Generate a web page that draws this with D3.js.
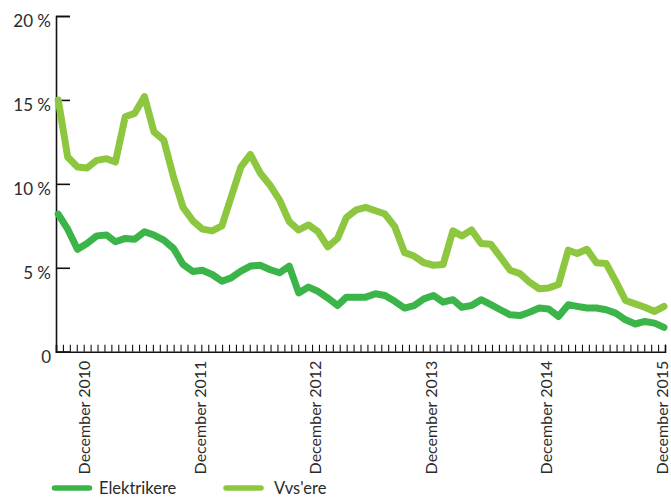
<!DOCTYPE html>
<html>
<head>
<meta charset="utf-8">
<script src="https://cdn.jsdelivr.net/npm/d3@7"></script>
<style>
    body { margin: 0; background: #fff; }
    svg { display: block; font-family: Lato, "Liberation Sans", sans-serif; }
    .lbl { fill: #2b2b2b; }
</style>
</head>
<body>
<svg id="chart" width="671" height="497"></svg>
<script>
// months Sep 2010 .. Dec 2015
const months = d3.timeMonth.range(new Date(2010, 8, 1), new Date(2016, 0, 1));

const elektrikere = [
    8.2, 7.3, 6.1, 6.45, 6.9, 6.95, 6.55, 6.75, 6.7, 7.15, 6.95, 6.65,
    6.15, 5.2, 4.78, 4.85, 4.6, 4.2, 4.4, 4.8, 5.1, 5.15, 4.9, 4.7,
    5.1, 3.5, 3.85, 3.6, 3.2, 2.75, 3.25, 3.25, 3.25, 3.45, 3.35, 3.0,
    2.6, 2.75, 3.15, 3.35, 2.95, 3.1, 2.65, 2.75, 3.1, 2.8, 2.5, 2.2,
    2.15, 2.35, 2.6, 2.55, 2.1, 2.8, 2.7, 2.6, 2.6, 2.5, 2.3, 1.9,
    1.65, 1.8, 1.7, 1.45
];

const vvsere = [
    15.0, 11.6, 11.0, 10.95, 11.4, 11.5, 11.3, 14.0, 14.2, 15.2, 13.1, 12.6,
    10.4, 8.6, 7.8, 7.3, 7.2, 7.5, 9.2, 11.0, 11.75, 10.65, 9.95, 9.05,
    7.75, 7.25, 7.55, 7.15, 6.25, 6.75, 8.0, 8.45, 8.6, 8.4, 8.2, 7.45,
    5.9, 5.7, 5.3, 5.15, 5.2, 7.2, 6.9, 7.25, 6.45, 6.4, 5.65, 4.85,
    4.65, 4.15, 3.75, 3.8, 4.0, 6.05, 5.85, 6.1, 5.3, 5.25, 4.2, 3.05,
    2.85, 2.65, 2.4, 2.7
];

const yTicks = [0, 5, 10, 15, 20];
const yTickLabels = ["0", "5 %", "10 %", "15 %", "20 %"];
const xLabelDates = [2010, 2011, 2012, 2013, 2014, 2015].map(y => new Date(y, 11, 1));
const xLabels = ["December 2010", "December 2011", "December 2012", "December 2013", "December 2014", "December 2015"];

const seriesNames = ["Elektrikere", "Vvs'ere"];
const colors = ["#3bb54a", "#8dc63f"];

const svg = d3.select("#chart");

const x = d3.scaleTime()
    .domain([new Date(2010, 7, 25), new Date(2015, 11, 4)])
    .range([56, 665]);

const y = d3.scaleLinear()
    .domain([0, 20])
    .range([351.7, 16]);

// small ticks along the bottom, evenly spread over the axis
const [d0, d1] = x.domain();
const minorTicks = d3.range(89).map(i => new Date(+d0 + i * (d1 - d0) / 88));

const xAxis = svg.append("g")
    .attr("transform", `translate(0,${y(0)})`)
    .call(d3.axisBottom(x).tickValues(minorTicks).tickSize(-7).tickFormat(""));
xAxis.select(".domain").attr("stroke", "#111").attr("stroke-width", 1.6);
xAxis.selectAll(".tick line").attr("stroke", "#111").attr("stroke-width", 1.1);

const yAxis = svg.append("g")
    .attr("transform", `translate(${x.range()[0]},0)`)
    .call(d3.axisLeft(y).tickValues(yTicks).tickSize(-14).tickFormat(""));
yAxis.select(".domain").attr("stroke", "#111").attr("stroke-width", 1.6);
yAxis.selectAll(".tick line").attr("stroke", "#111").attr("stroke-width", 1.6);

// y labels, sitting a little below their tick
svg.append("g").selectAll("text")
    .data(yTicks)
    .join("text")
    .attr("class", "lbl")
    .attr("x", 51)
    .attr("y", d => y(d) + 11)
    .attr("text-anchor", "end")
    .style("font-size", "17px")
    .text((d, i) => yTickLabels[i]);

// rotated year labels
svg.append("g").selectAll("text")
    .data(xLabelDates)
    .join("text")
    .attr("class", "lbl")
    .attr("transform", d => `translate(${x(d) + 3.5},${y(0) + 9}) rotate(-90)`)
    .attr("text-anchor", "end")
    .style("font-size", "16px")
    .text((d, i) => xLabels[i]);

const line = d3.line()
    .x((d, i) => x(months[i]))
    .y(d => y(d));

[vvsere, elektrikere].forEach((vals, k) => {
    svg.append("path")
        .datum(vals)
        .attr("fill", "none")
        .attr("stroke", k === 0 ? colors[1] : colors[0])
        .attr("stroke-width", 7)
        .attr("stroke-linejoin", "round")
        .attr("stroke-linecap", "round")
        .attr("d", line);
});

// legend
const legend = svg.append("g").attr("transform", "translate(0,488)");
const swatchX = [54.5, 226];
const legendTextX = [99, 274];
seriesNames.forEach((name, i) => {
    legend.append("line")
        .attr("x1", swatchX[i]).attr("x2", swatchX[i] + 35)
        .attr("stroke", colors[i])
        .attr("stroke-width", 5.5)
        .attr("stroke-linecap", "round");
    legend.append("text")
        .attr("class", "lbl")
        .attr("x", legendTextX[i])
        .attr("y", 5.5)
        .style("font-size", "16.5px")
        .text(name);
});
</script>
</body>
</html>
